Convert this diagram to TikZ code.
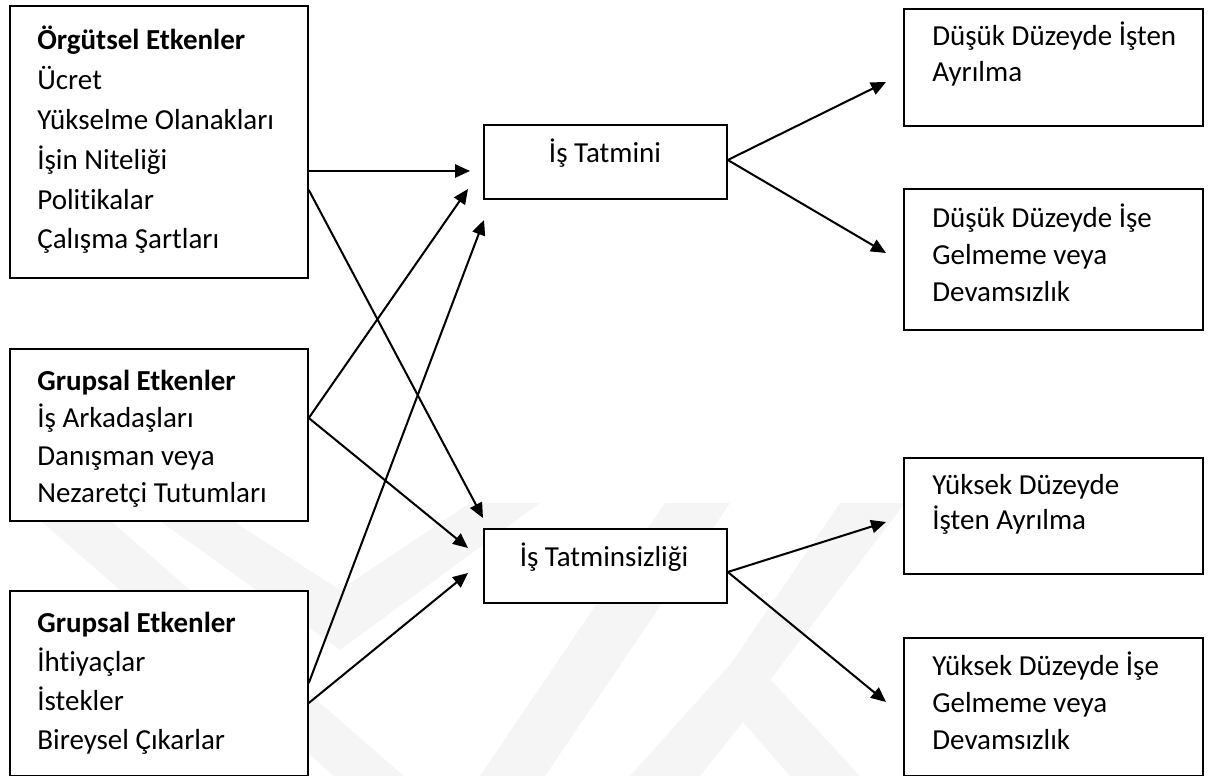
\documentclass[tikz,border=0pt]{standalone}
\usepackage{fontspec}
\setmainfont{Carlito}[Ligatures={NoCommon}]
\usetikzlibrary{arrows.meta,calc}
\begin{document}
\begin{tikzpicture}[x=0.02cm,y=-0.02cm,
  box/.style={draw=black, line width=1.05pt, fill=white, anchor=north west, inner sep=0pt},
  txt/.style={anchor=base west, align=left, inner sep=0pt},
  ctxt/.style={anchor=base, inner sep=0pt},
  arr/.style={line width=1.15pt, -{Triangle[length=8.5pt,width=7.5pt]}},
  wm/.style={fill=black!4, draw=none}]
\useasboundingbox (0,0) rectangle (1208,776);
% faint watermark
\fill[wm] (20,503) -- (90,503) -- (404,776) -- (334,776) -- cycle;
\fill[wm] (135,503) -- (205,503) -- (340,590) -- (470,503) -- (540,503) -- (340,650) -- cycle;
\fill[wm] (480,776) -- (545,776) -- (730,503) -- (665,503) -- cycle;
\fill[wm] (630,776) -- (743,650) -- (860,776) -- (790,776) -- (743,722) -- (700,776) -- cycle;
\fill[wm] (840,503) -- (905,503) -- (770,680) -- (720,680) -- cycle;
% boxes
\node[box, minimum width=5.96cm, minimum height=5.44cm] (A) at (9,5) {};
\node[box, minimum width=5.96cm, minimum height=3.44cm] (B) at (9,348) {};
\node[box, minimum width=5.96cm, minimum height=3.70cm] (C) at (9,590) {};
\node[box, minimum width=4.86cm, minimum height=1.48cm] (T1) at (483,124) {};
\node[box, minimum width=4.86cm, minimum height=1.48cm] (T2) at (483,528) {};
\node[box, minimum width=5.98cm, minimum height=2.34cm] (D1) at (903,8) {};
\node[box, minimum width=5.98cm, minimum height=2.82cm] (D2) at (903,188) {};
\node[box, minimum width=5.98cm, minimum height=2.32cm] (D3) at (903,457) {};
\node[box, minimum width=5.98cm, minimum height=2.76cm] (D4) at (903,637) {};
% texts (anchored at the baseline of the last line)
\node[txt, font=\fontsize{16.5}{22.7}\selectfont] (tA) at (37,249) {\textbf{Örgütsel Etkenler}\\Ücret\\Yükselme Olanakları\\İşin Niteliği\\Politikalar\\Çalışma Şartları};
\node[txt, font=\fontsize{16.5}{21.4}\selectfont] (tB) at (37,503) {\textbf{Grupsal Etkenler}\\İş Arkadaşları\\Danışman veya\\Nezaretçi Tutumları};
\node[txt, font=\fontsize{16.5}{22.3}\selectfont] (tC) at (37,750) {\textbf{Grupsal Etkenler}\\İhtiyaçlar\\İstekler\\Bireysel Çıkarlar};
\node[ctxt, font=\fontsize{16.5}{21}\selectfont] (tT1) at (605,163) {İş Tatmini};
\node[ctxt, font=\fontsize{16.5}{21}\selectfont] (tT2) at (604,567) {İş Tatminsizliği};
\node[txt, font=\fontsize{16.5}{21}\selectfont] (tD1) at (932,82) {Düşük Düzeyde İşten\\Ayrılma};
\node[txt, font=\fontsize{16.5}{21.3}\selectfont] (tD2) at (932,302) {Düşük Düzeyde İşe\\Gelmeme veya\\Devamsızlık};
\node[txt, font=\fontsize{16.5}{20}\selectfont] (tD3) at (932,530) {Yüksek Düzeyde\\İşten Ayrılma};
\node[txt, font=\fontsize{16.5}{21.3}\selectfont] (tD4) at (932,750) {Yüksek Düzeyde İşe\\Gelmeme veya\\Devamsızlık};
% arrow tips
\coordinate (pA1) at (470,171);
\coordinate (pA2) at (483,518);
\coordinate (pB1) at (468,189);
\coordinate (pB2) at (468,548);
\coordinate (pC1) at (484,220);
\coordinate (pC2) at (468,573);
\coordinate (pT1) at (886,82);
\coordinate (pT2) at (886,253);
\coordinate (pU1) at (886,522);
\coordinate (pU2) at (886,702);
% connectors
\draw[arr] ($(A.north east)+(0,166)$) -- (pA1);
\draw[arr] ($(A.north east)+(0,185)$) -- (pA2);
\draw[arr] ($(B.north east)+(0,70)$) -- (pB1);
\draw[arr] ($(B.north east)+(0,70)$) -- (pB2);
\draw[arr] ($(C.north east)+(0,93)$) -- (pC1);
\draw[arr] ($(C.north east)+(0,113)$) -- (pC2);
\draw[arr] ($(T1.north east)+(0,36)$) -- (pT1);
\draw[arr] ($(T1.north east)+(0,36)$) -- (pT2);
\draw[arr] ($(T2.north east)+(0,44)$) -- (pU1);
\draw[arr] ($(T2.north east)+(0,44)$) -- (pU2);
\end{tikzpicture}
\end{document}
